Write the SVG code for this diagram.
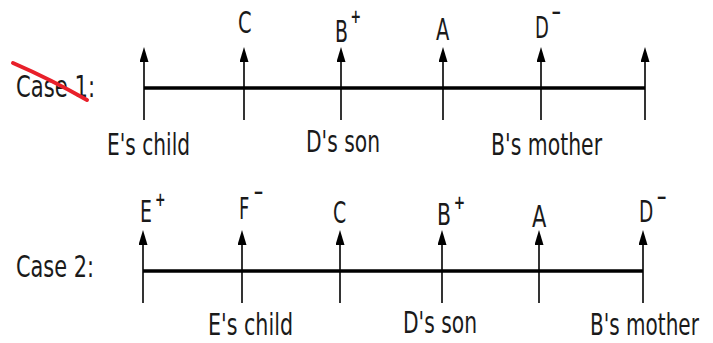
<svg xmlns="http://www.w3.org/2000/svg" width="713" height="343" viewBox="0 0 713 343">
<style>
.t{font-family:"DejaVu Sans","Liberation Sans",sans-serif;font-size:30px;fill:#1a1a1a}
.sup{font-size:20px;font-weight:bold}
.axis{stroke:#000;stroke-width:3.5;fill:none}
.arr{stroke:#000;stroke-width:1.6;fill:none;marker-end:url(#ah)}
</style>
<defs>
<marker id="ah" viewBox="0 0 15 9" refX="10" refY="4.5" markerWidth="15" markerHeight="9" orient="auto" markerUnits="userSpaceOnUse">
<path d="M0,0 L15,4.5 L0,9 z" fill="#000"/>
</marker>
</defs>
<rect width="713" height="343" fill="#fff"/>
<g id="connectors">
<line class="axis" x1="144" y1="88" x2="645" y2="88"/>
<line class="axis" x1="143" y1="271" x2="643" y2="271"/>
</g>
<g id="case1-label">
<text class="t" transform="translate(16,97) scale(0.705,1)">Case 1:</text>
<path d="M13,63 Q50,79 87,100" stroke="#e8202a" stroke-width="4" fill="none" stroke-linecap="round"/>
</g>
<g id="c1-t1"><line class="arr" x1="144" y1="120" x2="144" y2="52"/><text class="t" transform="translate(107,155) scale(0.672,1)">E's child</text></g>
<g id="c1-t2"><line class="arr" x1="244" y1="120" x2="244" y2="52"/><text class="t" transform="translate(238,33) scale(0.65,1)">C</text></g>
<g id="c1-t3"><line class="arr" x1="341" y1="120" x2="341" y2="52"/><text class="t" transform="translate(335,42) scale(0.63,1)">B<tspan class="sup" dx="4" dy="-19">+</tspan></text><text class="t" transform="translate(306,152) scale(0.676,1)">D's son</text></g>
<g id="c1-t4"><line class="arr" x1="443" y1="120" x2="443" y2="52"/><text class="t" transform="translate(436,40) scale(0.65,1)">A</text></g>
<g id="c1-t5"><line class="arr" x1="541" y1="120" x2="541" y2="52"/><text class="t" transform="translate(535,38) scale(0.6,1)">D<tspan class="sup" dx="4" dy="-19">−</tspan></text><text class="t" transform="translate(491,155) scale(0.681,1)">B's mother</text></g>
<g id="c1-t6"><line class="arr" x1="645" y1="120" x2="645" y2="52"/></g>
<g id="case2-label">
<text class="t" transform="translate(16,277) scale(0.696,1)">Case 2:</text>
</g>
<g id="c2-t1"><line class="arr" x1="143" y1="303" x2="143" y2="235"/><text class="t" transform="translate(140,222) scale(0.63,1)">E<tspan class="sup" dx="5" dy="-16">+</tspan></text></g>
<g id="c2-t2"><line class="arr" x1="242" y1="303" x2="242" y2="235"/><text class="t" transform="translate(239,219) scale(0.6,1)">F<tspan class="sup" dx="7" dy="-20">−</tspan></text><text class="t" transform="translate(208,335) scale(0.688,1)">E's child</text></g>
<g id="c2-t3"><line class="arr" x1="340" y1="303" x2="340" y2="235"/><text class="t" transform="translate(333,223) scale(0.63,1)">C</text></g>
<g id="c2-t4"><line class="arr" x1="442" y1="303" x2="442" y2="235"/><text class="t" transform="translate(437,225) scale(0.68,1)">B<tspan class="sup" dx="4" dy="-16">+</tspan></text><text class="t" transform="translate(403,333) scale(0.676,1)">D's son</text></g>
<g id="c2-t5"><line class="arr" x1="539" y1="303" x2="539" y2="235"/><text class="t" transform="translate(532,227) scale(0.7,1)">A</text></g>
<g id="c2-t6"><line class="arr" x1="643" y1="303" x2="643" y2="235"/><text class="t" transform="translate(639,222) scale(0.62,1)">D<tspan class="sup" dx="5" dy="-18">−</tspan></text><text class="t" transform="translate(590,335) scale(0.668,1)">B's mother</text></g>
</svg>
